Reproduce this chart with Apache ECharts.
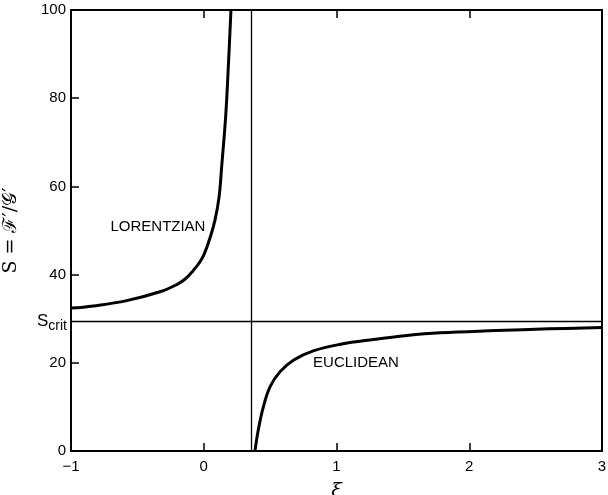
<!DOCTYPE html>
<html><head><meta charset="utf-8">
<script src="https://cdn.jsdelivr.net/npm/echarts@6/dist/echarts.min.js"></script>
<style>html,body{margin:0;padding:0;background:#fff}#c{width:608px;height:495px}</style>
</head><body><div id="c"></div>
<script>
var xTicks = [-1, 0, 1, 2, 3];
var yTicks = [0, 20, 40, 60, 80, 100];
var lorXi = [-1, -0.83, -0.58, -0.33, -0.2, -0.14, -0.08, -0.04, 0, 0.05, 0.085, 0.115, 0.135, 0.165, 0.185, 0.205];
var lorS  = [32.4, 32.9, 34.1, 36.1, 37.8, 39.0, 40.9, 42.4, 44.4, 48.6, 52.4, 57.5, 64.5, 75.8, 87.1, 100];
var eucXi = [0.386, 0.411, 0.449, 0.5, 0.575, 0.675, 0.825, 1.03, 1.28, 1.53, 1.78, 2.2, 2.6, 3.0];
var eucS  = [0, 4.8, 10.0, 14.6, 18.0, 20.6, 22.7, 24.2, 25.3, 26.2, 26.8, 27.3, 27.7, 28.0];
var xiCrit = 0.36;
var sCrit = 29.5;
var curveLabels = [
  {name: 'LORENTZIAN', xi: -0.345, s: 50.8},
  {name: 'EUCLIDEAN', xi: 1.147, s: 20.0}
];

var FONT = 'Liberation Sans';
function zip(a, b) { return a.map(function (v, i) { return [v, b[i]]; }); }

var chart = echarts.init(document.getElementById('c'));
chart.setOption({
  animation: false,
  backgroundColor: '#fff',
  grid: {left: 71, right: 6, top: 10, bottom: 44, containLabel: false, outerBoundsMode: 'none'},
  xAxis: [{
    type: 'value', min: xTicks[0], max: xTicks[xTicks.length - 1], interval: 1,
    axisLine: {onZero: false, lineStyle: {color: '#000', width: 2}},
    axisTick: {show: true, inside: true, length: 8, lineStyle: {color: '#000', width: 1.5}},
    splitLine: {show: false},
    axisLabel: {color: '#000', fontFamily: FONT, fontSize: 15, margin: 8,
      formatter: function (v) { return v < 0 ? '\u2212' + Math.abs(v) : String(v); }},
    name: '\u03be', nameLocation: 'middle', nameGap: 31,
    nameTextStyle: {color: '#000', fontFamily: 'DejaVu Serif', fontSize: 19, fontStyle: 'italic'}
  }, {
    type: 'value', position: 'top', min: xTicks[0], max: xTicks[xTicks.length - 1], interval: 1,
    axisLine: {show: true, onZero: false, lineStyle: {color: '#000', width: 2}},
    axisTick: {show: true, inside: true, length: 8, lineStyle: {color: '#000', width: 1.5}},
    axisLabel: {show: false}, splitLine: {show: false}
  }],
  yAxis: [{
    type: 'value', min: yTicks[0], max: yTicks[yTicks.length - 1], interval: 20,
    axisLine: {show: true, onZero: false, lineStyle: {color: '#000', width: 2}},
    axisTick: {show: true, inside: true, length: 8, lineStyle: {color: '#000', width: 1.5}},
    splitLine: {show: false},
    axisLabel: {color: '#000', fontFamily: FONT, fontSize: 15, margin: 5},
    name: 'S = \u2131\u2032/\ud835\udca2\u2032', nameLocation: 'middle', nameGap: 50,
    nameTextStyle: {color: '#000', fontFamily: 'DejaVu Serif', fontSize: 19}
  }, {
    type: 'value', position: 'right', min: yTicks[0], max: yTicks[yTicks.length - 1], interval: 20,
    axisLine: {show: true, onZero: false, lineStyle: {color: '#000', width: 2}},
    axisTick: {show: false}, axisLabel: {show: false}, splitLine: {show: false}
  }],
  series: [{
    type: 'line', name: 'Lorentzian', data: zip(lorXi, lorS), smooth: 0.4,
    showSymbol: false, lineStyle: {color: '#000', width: 3}, clip: true,
    markLine: {
      silent: true, symbol: 'none', animation: false,
      lineStyle: {color: '#000', width: 1.3, type: 'solid'},
      data: [
        {xAxis: xiCrit, label: {show: false}},
        {yAxis: sCrit, label: {show: true, position: 'start', distance: 4,
          formatter: '{a|S}{b|crit}',
          rich: {a: {fontFamily: FONT, fontSize: 17, color: '#000'},
                 b: {fontFamily: FONT, fontSize: 14, color: '#000', padding: [10, 0, 0, 0]}}}}
      ]
    }
  }, {
    type: 'line', name: 'Euclidean', data: zip(eucXi, eucS), smooth: 0.4,
    showSymbol: false, lineStyle: {color: '#000', width: 3}
  }, {
    type: 'scatter', symbolSize: 0, itemStyle: {opacity: 1},
    data: curveLabels.map(function (d) { return {name: d.name, value: [d.xi, d.s]}; }),
    label: {show: true, position: 'inside', formatter: '{b}', color: '#000', opacity: 1,
      textBorderWidth: 0, fontFamily: FONT, fontSize: 15}
  }]
});
</script></body></html>
